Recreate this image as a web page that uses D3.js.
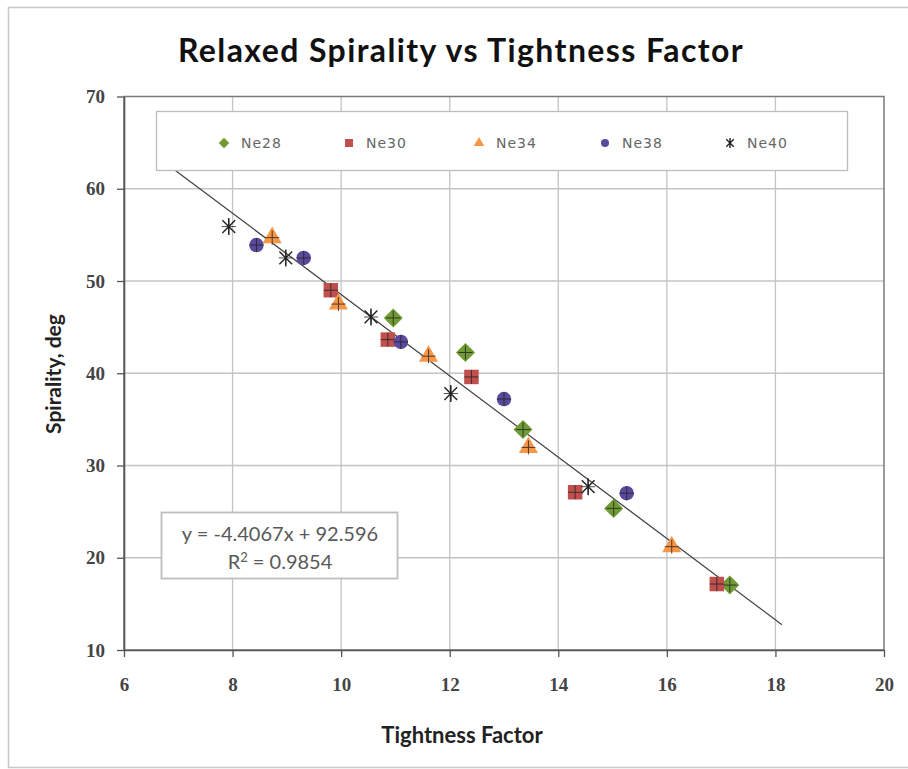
<!doctype html>
<html>
<head>
<meta charset="UTF-8" />
<script src="https://d3js.org/d3.v7.min.js"></script>
<style>
  body { margin: 0; background: #fff; }
  svg { display: block; }
</style>
</head>
<body>
<svg id="chart" width="908" height="769"></svg>
<script>
// series names and values
const seriesNames = ["Ne28", "Ne30", "Ne34", "Ne38", "Ne40"];
const ne28 = [[10.96, 46.0], [12.29, 42.25], [13.35, 33.9], [15.02, 25.35], [17.16, 17.04]];
const ne30 = [[9.81, 49.0], [10.86, 43.65], [12.40, 39.6], [14.31, 27.1], [16.92, 17.15]];
const ne34 = [[8.73, 54.7], [9.95, 47.5], [11.61, 41.85], [13.45, 31.96], [16.09, 21.2]];
const ne38 = [[8.44, 53.9], [9.31, 52.5], [11.10, 43.4], [13.00, 37.2], [15.26, 27.0]];
const ne40 = [[7.93, 55.9], [8.98, 52.5], [10.55, 46.1], [12.02, 37.8], [14.55, 27.7]];
const xTicks = [6, 8, 10, 12, 14, 16, 18, 20];
const yTicks = [10, 20, 30, 40, 50, 60, 70];
const slope = -4.4067, intercept = 92.596, rSquared = 0.9854;
const trendRange = [6.94, 18.12];

const seriesData = [ne28, ne30, ne34, ne38, ne40];
const colors = ["#6f9a34", "#c0504d", "#f79646", "#5a4a9c", "#222"];
const shapes = ["diamond", "square", "triangle", "circle", "star"];

const svg = d3.select("#chart");

// outer chart frame
svg.append("rect")
  .attr("x", 8.5).attr("y", 7.5)
  .attr("width", 908).attr("height", 760)
  .attr("fill", "#fff").attr("stroke", "#c8c8c8").attr("stroke-width", 1.5);

const x = d3.scaleLinear().domain([6, 20]).range([124, 884]);
const y = d3.scaleLinear().domain([10, 70]).range([650, 96.5]);

// gridlines
svg.append("g").selectAll("line").data(xTicks.slice(1, -1)).join("line")
  .attr("x1", d => x(d)).attr("x2", d => x(d))
  .attr("y1", y(70)).attr("y2", y(10))
  .attr("stroke", "#c4c4c4").attr("stroke-width", 1.3);
svg.append("g").selectAll("line").data(yTicks.slice(1, -1)).join("line")
  .attr("x1", x(6)).attr("x2", x(20))
  .attr("y1", d => y(d)).attr("y2", d => y(d))
  .attr("stroke", "#c4c4c4").attr("stroke-width", 1.3);

// plot frame
svg.append("rect")
  .attr("x", x(6)).attr("y", y(70))
  .attr("width", x(20) - x(6)).attr("height", y(10) - y(70))
  .attr("fill", "none").attr("stroke", "#7a7a7a").attr("stroke-width", 1.5);

// axes
const xAxis = svg.append("g")
  .attr("transform", "translate(0," + y(10) + ")")
  .call(d3.axisBottom(x).tickValues(xTicks).tickSizeInner(7).tickSizeOuter(0).tickPadding(21));
const yAxis = svg.append("g")
  .attr("transform", "translate(" + x(6) + ",0)")
  .call(d3.axisLeft(y).tickValues(yTicks).tickSizeInner(7).tickSizeOuter(0).tickPadding(12));

[xAxis, yAxis].forEach(function (a) {
  a.select(".domain").attr("stroke", "#555").attr("stroke-width", 1.6);
  a.selectAll(".tick line").attr("stroke", "#555").attr("stroke-width", 1.3);
  a.selectAll(".tick text")
    .attr("font-family", "Liberation Serif, serif")
    .attr("font-weight", "bold")
    .attr("font-size", 19)
    .attr("fill", "#444");
});

// trendline
svg.append("line")
  .attr("x1", x(trendRange[0])).attr("y1", y(slope * trendRange[0] + intercept))
  .attr("x2", x(trendRange[1])).attr("y2", y(slope * trendRange[1] + intercept))
  .attr("stroke", "#444").attr("stroke-width", 1.3);

// marker drawing
function drawMarker(g, shape, color, s) {
  if (shape === "diamond") {
    g.append("path").attr("d", d3.symbol(d3.symbolDiamond2, s * s * 1.1)())
      .attr("fill", color);
  } else if (shape === "square") {
    g.append("rect").attr("x", -s / 2).attr("y", -s / 2)
      .attr("width", s).attr("height", s).attr("fill", color);
  } else if (shape === "triangle") {
    g.append("path").attr("d", d3.symbol(d3.symbolTriangle, s * s * 0.75)())
      .attr("fill", color);
  } else if (shape === "circle") {
    g.append("circle").attr("r", s / 2).attr("fill", color);
  } else {
    const r = s / 2;
    const d = r * 0.75;
    g.append("path")
      .attr("d", "M0," + (-r) + "V" + r + "M" + (-d) + "," + (-d) + "L" + d + "," + d + "M" + (-d) + "," + d + "L" + d + "," + (-d))
      .attr("stroke", color).attr("stroke-width", 1.4).attr("fill", "none");
  }
}

// points with small error crosses
seriesData.forEach(function (data, i) {
  const g = svg.append("g").attr("class", "series-" + seriesNames[i]);
  data.forEach(function (p) {
    const m = g.append("g").attr("transform", "translate(" + x(p[0]) + "," + y(p[1]) + ")");
    drawMarker(m, shapes[i], colors[i], shapes[i] === "star" ? 17 : 14.5);
    m.append("path")
      .attr("d", "M-7,0H7M0,-7V7")
      .attr("stroke", "#222").attr("stroke-width", 1).attr("opacity", 0.8);
  });
});

// legend
svg.append("rect")
  .attr("x", 156.5).attr("y", 111.5).attr("width", 691).attr("height", 59)
  .attr("fill", "#fff").attr("stroke", "#bdbdbd").attr("stroke-width", 1.3);
const legendX = [224, 349, 479, 605, 730];
seriesNames.forEach(function (name, i) {
  const lg = svg.append("g").attr("transform", "translate(" + legendX[i] + ",143)");
  drawMarker(lg, shapes[i], colors[i], shapes[i] === "star" ? 10 : 8);
  lg.append("text")
    .attr("x", 17).attr("y", 5)
    .attr("font-family", "DejaVu Sans, sans-serif")
    .attr("font-size", 14)
    .attr("letter-spacing", 1)
    .attr("fill", "#666")
    .text(name);
});

// trendline equation box
svg.append("rect")
  .attr("x", 161.5).attr("y", 512.5).attr("width", 236).attr("height", 66)
  .attr("fill", "#fff").attr("stroke", "#bdbdbd").attr("stroke-width", 1.8);
const eq = svg.append("text")
  .attr("x", 280).attr("text-anchor", "middle")
  .attr("font-family", "Lato, sans-serif")
  .attr("font-size", 20)
  .attr("fill", "#595959");
eq.append("tspan").attr("x", 280).attr("y", 541)
  .text("y = " + slope + "x + " + intercept);
const r2 = eq.append("tspan").attr("x", 280).attr("y", 569);
r2.append("tspan").text("R");
r2.append("tspan").attr("dy", -7).attr("font-size", 13).text("2");
r2.append("tspan").attr("dy", 7).text(" = " + rSquared);

// titles
svg.append("text")
  .attr("x", 461).attr("y", 62).attr("text-anchor", "middle")
  .attr("font-family", "Lato, sans-serif").attr("font-weight", "bold")
  .attr("font-size", 32).attr("letter-spacing", 1.4).attr("fill", "#111")
  .text("Relaxed Spirality vs Tightness Factor");

svg.append("text")
  .attr("x", 462).attr("y", 743).attr("text-anchor", "middle")
  .attr("font-family", "Lato, sans-serif").attr("font-weight", "bold")
  .attr("font-size", 22).attr("fill", "#222")
  .text("Tightness Factor");

svg.append("text")
  .attr("transform", "translate(61,374) rotate(-90)")
  .attr("text-anchor", "middle")
  .attr("font-family", "Lato, sans-serif").attr("font-weight", "bold")
  .attr("font-size", 21).attr("fill", "#222")
  .text("Spirality, deg");
</script>
</body>
</html>
